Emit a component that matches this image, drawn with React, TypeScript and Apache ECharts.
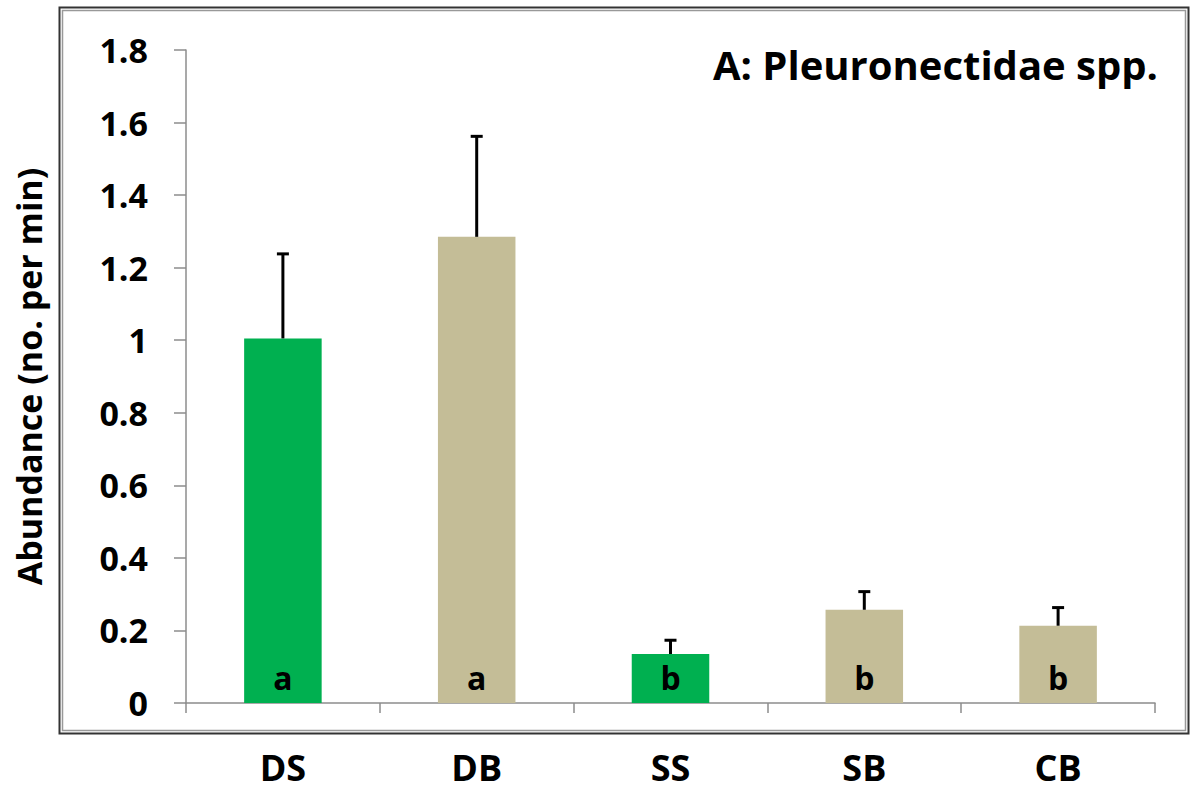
import React, { useEffect, useRef } from "react";
import * as echarts from "echarts";

const categories = ["DS", "DB", "SS", "SB", "CB"];
const means = [1.005, 1.285, 0.135, 0.257, 0.213];
const upperErr = [1.238, 1.562, 0.173, 0.307, 0.263];
const letters = ["a", "a", "b", "b", "b"];
const barColors = ["#00B050", "#C4BD97", "#00B050", "#C4BD97", "#C4BD97"];
const yTicks = { min: 0, max: 1.8, interval: 0.2 };

const FONT = '"Open Sans", "Noto Sans", sans-serif';

export default function App() {
  const ref = useRef<HTMLDivElement>(null);
  useEffect(() => {
    if (!ref.current) return;
    const chart = echarts.init(ref.current, undefined, { renderer: "svg" });
    const option: any = {
      animation: false,
      backgroundColor: "#ffffff",
      graphic: [
        {
          type: "rect",
          shape: { x: 59.5, y: 7.5, width: 1129, height: 726 },
          style: { fill: "none", stroke: "#333", lineWidth: 2 },
          silent: true,
        },
        {
          type: "rect",
          shape: { x: 62.5, y: 10.5, width: 1123, height: 720 },
          style: { fill: "none", stroke: "#999", lineWidth: 1.5 },
          silent: true,
        },
        {
          type: "text",
          right: 32,
          top: 44,
          style: {
            text: "A: Pleuronectidae spp.",
            font: `bold 40px ${FONT}`,
            fill: "#000",
          },
        },
      ],
      grid: { left: 186, right: 35, top: 50, bottom: 89, containLabel: false },
      xAxis: {
        type: "category",
        data: categories,
        axisLine: { show: true, lineStyle: { color: "#8c8c8c", width: 1.5 } },
        axisTick: { show: true, length: 10, lineStyle: { color: "#8c8c8c", width: 1.5 } },
        axisLabel: {
          margin: 46,
          color: "#000",
          fontWeight: "bold",
          fontSize: 36,
          lineHeight: 36,
          fontFamily: FONT,
        },
      },
      yAxis: {
        type: "value",
        min: yTicks.min,
        max: yTicks.max,
        interval: yTicks.interval,
        name: "Abundance (no. per min)",
        nameLocation: "middle",
        nameRotate: 90,
        nameGap: 140,
        nameTextStyle: {
          color: "#000",
          fontWeight: "bold",
          fontSize: 34,
          fontFamily: FONT,
        },
        splitLine: { show: false },
        axisLine: { show: true, lineStyle: { color: "#8c8c8c", width: 1.5 } },
        axisTick: { show: true, length: 12, lineStyle: { color: "#8c8c8c", width: 1.5 } },
        axisLabel: {
          margin: 38,
          color: "#000",
          fontWeight: "bold",
          fontSize: 34,
          fontFamily: FONT,
          formatter: (v: number) => String(Math.round(v * 10) / 10),
        },
      },
      series: [
        {
          type: "bar",
          barWidth: "40%",
          data: means.map((v, i) => ({
            value: v,
            itemStyle: { color: barColors[i] },
            label: {
              show: true,
              position: "insideBottom",
              distance: 10,
              formatter: letters[i],
              color: "#000",
              fontWeight: "bold",
              fontSize: 32,
              fontFamily: FONT,
            },
          })),
          z: 2,
        },
        {
          type: "custom",
          z: 3,
          data: means.map((v, i) => [i, v, upperErr[i]]),
          renderItem: (params: any, api: any) => {
            const x = api.value(0);
            const lo = api.coord([x, api.value(1)]);
            const hi = api.coord([x, api.value(2)]);
            const half = 6;
            return {
              type: "group",
              children: [
                {
                  type: "line",
                  shape: { x1: lo[0], y1: lo[1], x2: hi[0], y2: hi[1] },
                  style: { stroke: "#000", lineWidth: 3 },
                },
                {
                  type: "line",
                  shape: { x1: hi[0] - half, y1: hi[1], x2: hi[0] + half, y2: hi[1] },
                  style: { stroke: "#000", lineWidth: 3 },
                },
              ],
            };
          },
        },
      ],
    };
    chart.setOption(option);
    return () => chart.dispose();
  }, []);
  return (
    <div
      ref={ref}
      style={{ position: "absolute", left: 0, top: 0, width: 1190, height: 792 }}
    />
  );
}
